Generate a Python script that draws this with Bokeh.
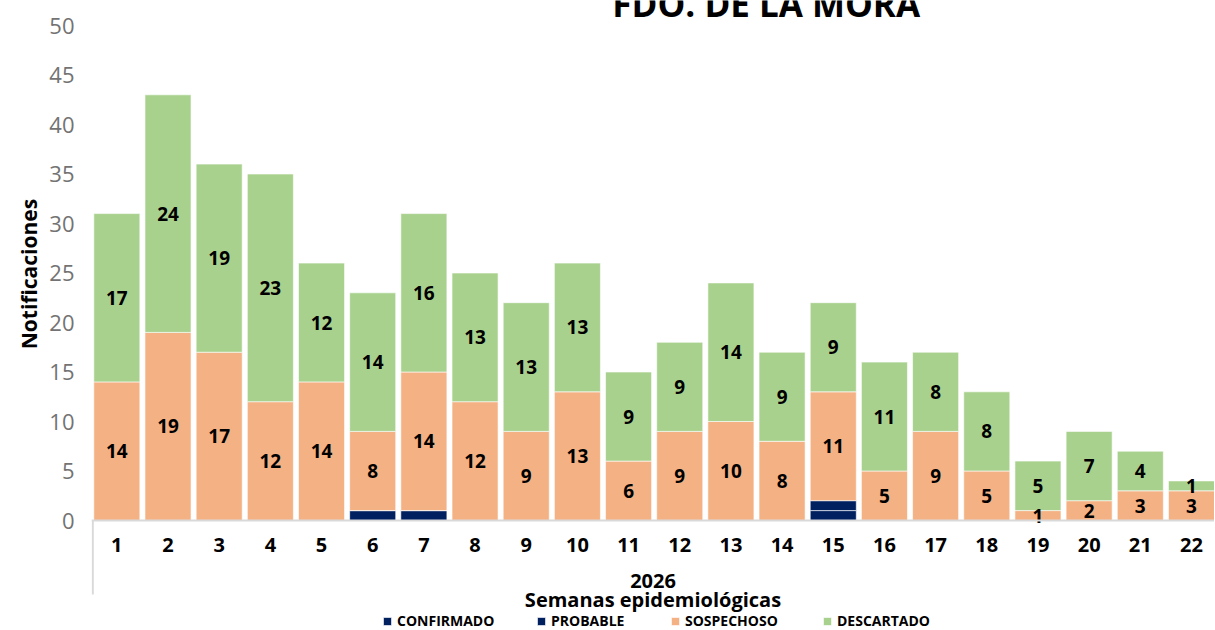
from bokeh.plotting import figure
from bokeh.models import (ColumnDataSource, Range1d, FixedTicker, Legend, LegendItem, Label, Span)
from bokeh.core.properties import value
from bokeh.embed import file_html
from bokeh.resources import INLINE

weeks = list(range(1, 23))
week_labels = [str(w) for w in weeks]
confirmado = [0, 0, 0, 0, 0, 1, 1, 0, 0, 0, 0, 0, 0, 0, 1, 0, 0, 0, 0, 0, 0, 0]
probable = [0, 0, 0, 0, 0, 0, 0, 0, 0, 0, 0, 0, 0, 0, 1, 0, 0, 0, 0, 0, 0, 0]
sospechoso = [14, 19, 17, 12, 14, 8, 14, 12, 9, 13, 6, 9, 10, 8, 11, 5, 9, 5, 1, 2, 3, 3]
descartado = [17, 24, 19, 23, 12, 14, 16, 13, 13, 13, 9, 9, 14, 9, 9, 11, 8, 8, 5, 7, 4, 1]
series = ["CONFIRMADO", "PROBABLE", "SOSPECHOSO", "DESCARTADO"]
colors = ["#002060", "#002060", "#F4B183", "#A9D18E"]
y_ticks = [0, 5, 10, 15, 20, 25, 30, 35, 40, 45, 50]
title_text = "FDO. DE LA MORA"
year_text = "2026"
x_title = "Semanas epidemiológicas"
y_title = "Notificaciones"

FONT = "Open Sans"
PX = 9.9  # pixels per unit on y

x_range = Range1d(0.505, 22.45)
y_range = Range1d(-109 / PX, 520 / PX)

src = ColumnDataSource(dict(week=weeks, CONFIRMADO=confirmado, PROBABLE=probable,
                            SOSPECHOSO=sospechoso, DESCARTADO=descartado))

p = figure(width=1214, height=629, output_backend="svg", toolbar_location=None,
           x_range=x_range, y_range=y_range,
           min_border_left=91, min_border_right=0, min_border_top=0, min_border_bottom=0)
p.outline_line_color = None
p.xgrid.visible = False
p.ygrid.visible = False
p.xaxis.visible = False
p.background_fill_color = "white"
p.border_fill_color = "white"

rs = p.vbar_stack(series, x="week", width=0.9, source=src, color=colors,
                  line_color="white", line_width=1, line_alpha=0.6)

# category axis line and box edge
p.add_layout(Span(location=0, dimension="width", line_color="#d9d9d9", line_width=2))
p.segment(x0=[x_range.start + 0.025], y0=[0], x1=[x_range.start + 0.025], y1=[-74 / PX],
          line_color="#d9d9d9", line_width=2)

# segment labels
base = [c + pr for c, pr in zip(confirmado, probable)]
sos_y = [b + s / 2 for b, s in zip(base, sospechoso)]
des_y = [b + s + d / 2 for b, s, d in zip(base, sospechoso, descartado)]
lab_src = ColumnDataSource(dict(x=weeks + weeks, y=sos_y + des_y,
                                t=[str(v) for v in sospechoso] + [str(v) for v in descartado]))
p.text(x="x", y="y", text="t", source=lab_src, text_align="center", text_baseline="middle",
       text_font=value(FONT), text_font_style="bold", text_font_size="19px", text_color="black")

# week labels (category axis)
p.text(x=weeks, y=[-24 / PX] * len(weeks), text=week_labels, text_align="center",
       text_baseline="middle", text_font=value(FONT), text_font_style="bold",
       text_font_size="20px", text_color="black")
xmid = (x_range.start + x_range.end) / 2
p.text(x=[xmid], y=[-60 / PX], text=[year_text], text_align="center", text_baseline="middle",
       text_font=value(FONT), text_font_style="bold", text_font_size="20px", text_color="black")
p.text(x=[xmid], y=[-79 / PX], text=[x_title], text_align="center", text_baseline="middle",
       text_font=value(FONT), text_font_style="bold", text_font_size="20px", text_color="black")

# y axis
p.yaxis.ticker = FixedTicker(ticks=y_ticks)
p.yaxis.axis_line_color = None
p.yaxis.major_tick_line_color = None
p.yaxis.minor_tick_line_color = None
p.yaxis.major_label_text_font = FONT
p.yaxis.major_label_text_font_size = "22px"
p.yaxis.major_label_text_color = "#737373"
p.yaxis.major_label_standoff = 11
# leading no-break spaces centre the title on the 0-50 plot area rather than the whole frame
p.yaxis.axis_label = "\u00a0" * 15 + y_title
p.yaxis.axis_label_text_font = FONT
p.yaxis.axis_label_text_font_style = "bold"
p.yaxis.axis_label_text_font_size = "21px"
p.yaxis.axis_label_text_color = "black"
p.yaxis.axis_label_standoff = 3

# legend: one entry per position
legend_x = [291, 445, 579, 731]
for s, r, lx in zip(series, rs, legend_x):
    lg = Legend(items=[LegendItem(label=s, renderers=[r])],
                orientation="horizontal", location=(lx, -1),
                glyph_width=10, glyph_height=10, label_standoff=5,
                padding=0, margin=0, border_line_color=None, background_fill_alpha=0,
                label_text_font=FONT, label_text_font_style="bold",
                label_text_font_size="14px", label_text_color="black",
                label_height=12)
    p.add_layout(lg)

title = Label(x=13.69, y=517 / PX, text=title_text, text_align="center", text_baseline="alphabetic",
              text_font=FONT, text_font_style="bold", text_font_size="35px", text_color="black")
p.add_layout(title)

open("out.html", "w").write(file_html(p, INLINE))
